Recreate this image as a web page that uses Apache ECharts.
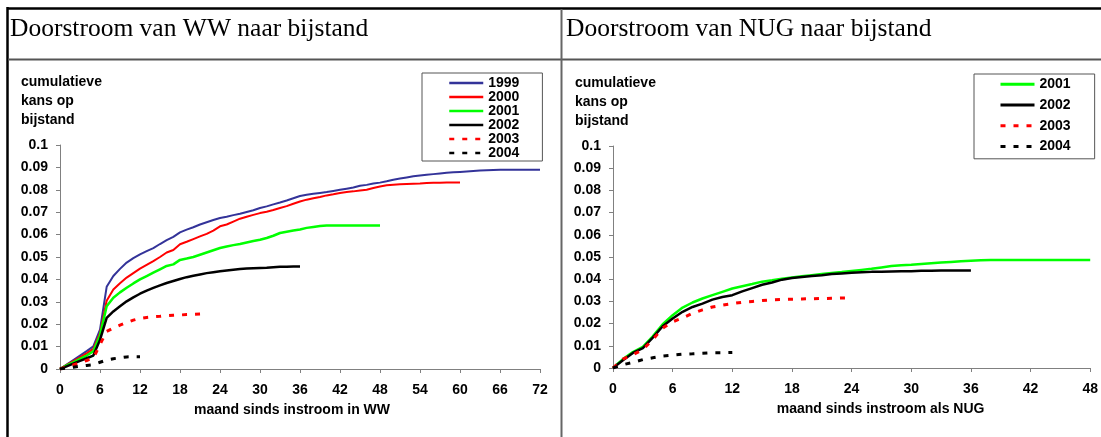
<!DOCTYPE html>
<html><head><meta charset="utf-8">
<script src="https://cdn.jsdelivr.net/npm/echarts@6/dist/echarts.min.js"></script>
<style>html,body{margin:0;padding:0;background:#fff}#c{width:1101px;height:437px}</style>
</head><body><div id="c"></div><script>
// ---- Data (monthly values, index = month since inflow) ----
const panelTitles = ['Doorstroom van WW naar bijstand', 'Doorstroom van NUG naar bijstand'];
const yAxisName = 'cumulatieve\nkans op\nbijstand';
const xNameWW = 'maand sinds instroom in WW';
const xNameNUG = 'maand sinds instroom als NUG';

const ww1999 = [0,0.002,0.004,0.006,0.008,0.0101,0.0176,0.0367,0.0415,0.0447,0.0475,0.0495,0.0512,0.0526,0.054,0.0558,0.0575,0.059,0.061,0.0622,0.0633,0.0645,0.0655,0.0665,0.0674,0.068,0.0687,0.0693,0.0701,0.0709,0.0719,0.0726,0.0735,0.0743,0.0752,0.0762,0.0772,0.0778,0.0782,0.0786,0.079,0.0795,0.08,0.0805,0.081,0.0818,0.0822,0.0828,0.0832,0.0838,0.0845,0.085,0.0855,0.086,0.0864,0.0867,0.087,0.0873,0.0876,0.0878,0.088,0.0882,0.0884,0.0886,0.0887,0.0888,0.0889,0.089,0.089,0.089,0.089,0.089,0.089];
const ww2000 = [0,0.0018,0.0035,0.0052,0.007,0.009,0.016,0.0305,0.0355,0.0383,0.0408,0.0428,0.0448,0.0465,0.0482,0.05,0.052,0.0531,0.0557,0.0568,0.058,0.0592,0.0603,0.0618,0.0637,0.0645,0.0658,0.0671,0.068,0.0688,0.0696,0.0702,0.071,0.0719,0.0727,0.0738,0.0748,0.0756,0.0762,0.0768,0.0775,0.078,0.0786,0.079,0.0793,0.0797,0.08,0.0808,0.0815,0.082,0.0823,0.0825,0.0826,0.0827,0.0828,0.083,0.0831,0.0832,0.0833,0.0833,0.0833];
const ww2001 = [0,0.0016,0.003,0.0045,0.006,0.0079,0.015,0.028,0.0318,0.0342,0.0363,0.0382,0.04,0.0415,0.043,0.0445,0.046,0.0467,0.0487,0.0493,0.05,0.051,0.052,0.053,0.054,0.0547,0.0553,0.0558,0.0565,0.0571,0.0577,0.0585,0.0595,0.0607,0.0613,0.0618,0.0623,0.063,0.0634,0.0638,0.0641,0.0641,0.0641,0.0641,0.0641,0.0641,0.0641,0.0641,0.0641];
const ww2002 = [0,0.0012,0.0024,0.0036,0.0048,0.006,0.013,0.0228,0.0257,0.028,0.0302,0.032,0.0336,0.035,0.0362,0.0373,0.0384,0.0393,0.0402,0.041,0.0416,0.0422,0.0428,0.0432,0.0436,0.044,0.0443,0.0446,0.0449,0.045,0.0451,0.0452,0.0454,0.0456,0.0457,0.0458,0.0458];
const ww2003 = [0,0.0009,0.0018,0.0027,0.0038,0.0049,0.0109,0.0168,0.0183,0.0196,0.0208,0.0218,0.0226,0.023,0.0233,0.0235,0.0238,0.024,0.0241,0.0243,0.0244,0.0245,0.0246];
const ww2004 = [0,0.0004,0.0008,0.0012,0.0016,0.0019,0.003,0.004,0.0046,0.005,0.0054,0.0055,0.0055];

const nug2001 = [0,0.004,0.0072,0.0095,0.0143,0.0197,0.0238,0.0272,0.0295,0.0313,0.0328,0.0343,0.0358,0.0368,0.0378,0.0389,0.0395,0.0402,0.0408,0.0413,0.0418,0.0423,0.0428,0.0432,0.0437,0.0442,0.0447,0.0453,0.0459,0.0463,0.0465,0.0469,0.0472,0.0475,0.0478,0.0481,0.0483,0.0485,0.0487,0.0487,0.0487,0.0487,0.0487,0.0487,0.0487,0.0487,0.0487,0.0487,0.0487];
const nug2002 = [0,0.0035,0.0068,0.009,0.0137,0.0188,0.0223,0.0253,0.0275,0.029,0.0308,0.032,0.0328,0.0345,0.036,0.0375,0.0385,0.0398,0.0405,0.041,0.0414,0.0418,0.0423,0.0426,0.0429,0.0431,0.0433,0.0434,0.0435,0.0436,0.0436,0.0438,0.0438,0.0439,0.0439,0.0439,0.0439];
const nug2003 = [0,0.004,0.006,0.0083,0.0128,0.018,0.0208,0.0226,0.0246,0.0262,0.0275,0.0283,0.029,0.0296,0.03,0.0304,0.0307,0.0309,0.031,0.0311,0.0312,0.0313,0.0314,0.0315,0.0315];
const nug2004 = [0,0.0015,0.0025,0.0038,0.0046,0.0054,0.0058,0.0062,0.0064,0.0066,0.0069,0.0069,0.007];

const wwNames = ['1999','2000','2001','2002','2003','2004'];
const nugNames = ['2001','2002','2003','2004'];
const wwMaxMonth = 72, nugMaxMonth = 48, monthStep = 6;
const yMax = 0.1, yStep = 0.01;

// ---- Styles ----
const FONT = '"Liberation Sans", Arial, sans-serif';
const SERIF = '"Liberation Serif", "DejaVu Serif", serif';
const styles = {
  '1999': {color:'#333399', type:'solid', width:2},
  '2000': {color:'#ff0000', type:'solid', width:2},
  '2001': {color:'#00ff00', type:'solid', width:2.5},
  '2002': {color:'#000000', type:'solid', width:2.5},
  '2003': {color:'#ff0000', type:[5,8], width:3},
  '2004': {color:'#000000', type:[5,8], width:3}
};
const pairs = arr => arr.map((v, i) => [i, v]);
function mkSeries(name, arr, gi) {
  const s = styles[name];
  return {
    name, type:'line', xAxisIndex:gi, yAxisIndex:gi, data:pairs(arr),
    symbol:'none', showSymbol:false, animation:false, silent:true,
    itemStyle:{color:s.color},
    lineStyle:{color:s.color, width:s.width, type:s.type, cap:'butt'}
  };
}
const axisLineCol = '#808080';
function xAx(gi, max, name, pad) {
  return {
    type:'value', gridIndex:gi, min:0, max, interval:monthStep,
    axisLine:{show:true, onZero:false, lineStyle:{color:axisLineCol, width:1}},
    axisTick:{show:true, inside:false, length:4, lineStyle:{color:axisLineCol}},
    splitLine:{show:false},
    axisLabel:{color:'#000', fontFamily:FONT, fontWeight:'bold', fontSize:14, margin:14},
    name, nameLocation:'middle', nameGap:34,
    nameTextStyle:{color:'#000', fontFamily:FONT, fontWeight:'bold', fontSize:14, padding:pad}
  };
}
function yAx(gi) {
  return {
    type:'value', gridIndex:gi, min:0, max:yMax, interval:yStep,
    axisLine:{show:true, lineStyle:{color:axisLineCol, width:1}},
    axisTick:{show:true, inside:false, length:4, lineStyle:{color:axisLineCol}},
    splitLine:{show:false},
    axisLabel:{color:'#000', fontFamily:FONT, fontWeight:'bold', fontSize:14, margin:12,
      formatter: v => String(Math.round(v*100)/100)}
  };
}
const legendText = {color:'#000', fontFamily:FONT, fontWeight:'bold', fontSize:14};

const chart = echarts.init(document.getElementById('c'), null, {renderer:'canvas'});
chart.setOption({
  backgroundColor:'#fff',
  animation:false,
  title:[
    {text:panelTitles[0], left:10, top:17, padding:0, textStyle:{fontFamily:SERIF, fontWeight:'normal', fontSize:25.5, color:'#000', lineHeight:25}},
    {text:panelTitles[1], left:566, top:17, padding:0, textStyle:{fontFamily:SERIF, fontWeight:'normal', fontSize:25.5, color:'#000', lineHeight:25}},
    {text:yAxisName, left:21, top:73, padding:0, textStyle:{fontFamily:FONT, fontWeight:'bold', fontSize:14, color:'#000', lineHeight:19}},
    {text:yAxisName, left:575, top:74, padding:0, textStyle:{fontFamily:FONT, fontWeight:'bold', fontSize:14, color:'#000', lineHeight:19}}
  ],
  grid:[
    {left:60, top:145, width:480, height:224},
    {left:613, top:146, width:480, height:222}
  ],
  xAxis:[xAx(0, wwMaxMonth, xNameWW, [0,16,0,0]), xAx(1, nugMaxMonth, xNameNUG, [0,0,0,58])],
  yAxis:[yAx(0), yAx(1)],
  legend:[
    {data:wwNames, orient:'vertical', left:422, top:73, itemWidth:34, itemHeight:13, itemGap:0,
     padding:[3,23,1,26], borderColor:'#555', borderWidth:1, textStyle:Object.assign({lineHeight:13.3}, legendText),
     itemStyle:{opacity:0}, lineStyle:{width:2.5}, selectedMode:false},
    {data:nugNames, orient:'vertical', left:974, top:74, itemWidth:34, itemHeight:13, itemGap:0,
     padding:[0,24,2,25], borderColor:'#555', borderWidth:1, textStyle:Object.assign({lineHeight:20.7}, legendText),
     itemStyle:{opacity:0}, lineStyle:{width:3}, selectedMode:false}
  ],
  series:[
    mkSeries('1999', ww1999, 0), mkSeries('2000', ww2000, 0), mkSeries('2001', ww2001, 0),
    mkSeries('2002', ww2002, 0), mkSeries('2003', ww2003, 0), mkSeries('2004', ww2004, 0),
    mkSeries('2001', nug2001, 1), mkSeries('2002', nug2002, 1), mkSeries('2003', nug2003, 1), mkSeries('2004', nug2004, 1)
  ],
  graphic:[
    {type:'line', silent:true, shape:{x1:7, y1:8.5, x2:1101, y2:8.5}, style:{stroke:'#000', lineWidth:2.5}},
    {type:'line', silent:true, shape:{x1:7.5, y1:7, x2:7.5, y2:437}, style:{stroke:'#000', lineWidth:2.5}},
    {type:'line', silent:true, shape:{x1:8, y1:59.5, x2:1101, y2:59.5}, style:{stroke:'#555', lineWidth:2}},
    {type:'line', silent:true, shape:{x1:561.5, y1:9, x2:561.5, y2:437}, style:{stroke:'#666', lineWidth:2}}
  ]
});
</script></body></html>
